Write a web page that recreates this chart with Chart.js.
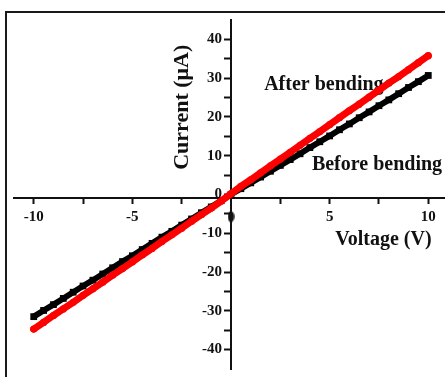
<!DOCTYPE html>
<html lang="en">
<head>
<meta charset="UTF-8">
<title>Current vs Voltage - before and after bending</title>
<script src="https://cdn.jsdelivr.net/npm/chart.js"></script>
<style>
    html, body { margin: 0; padding: 0; background: #fff; overflow: hidden; }
    body { width: 445px; height: 377px; position: relative; }
    #frame {
        position: absolute; left: 5px; top: 11px;
        width: 480px; height: 420px;
        border: 2px solid #1a1a1a; box-sizing: border-box;
    }
    #ivChart { position: absolute; left: 0; top: 0; }
</style>
</head>
<body>
<div id="frame"></div>
<canvas id="ivChart" width="460" height="377"></canvas>
<script>
// Voltage sweep (V)
const voltage = [-10, -9.5, -9, -8.5, -8, -7.5, -7, -6.5, -6, -5.5, -5, -4.5, -4, -3.5, -3, -2.5, -2, -1.5, -1, -0.5,
    0, 0.5, 1, 1.5, 2, 2.5, 3, 3.5, 4, 4.5, 5, 5.5, 6, 6.5, 7, 7.5, 8, 8.5, 9, 9.5, 10];

// Current (uA) before bending - black squares
const currentBefore = [-31.5, -29.9, -28.4, -26.8, -25.2, -23.6, -22.1, -20.5, -18.9, -17.3, -15.8, -14.2, -12.6, -11.0, -9.5, -7.9, -6.3, -4.7, -3.2, -1.6,
    0, 1.5, 3.0, 4.5, 6.0, 7.5, 9.0, 10.5, 12.1, 13.6, 15.1, 16.7, 18.2, 19.8, 21.3, 22.9, 24.4, 26.0, 27.6, 29.1, 30.7];

// Current (uA) after bending - red circles
const currentAfter = [-34.7, -33.0, -31.2, -29.5, -27.8, -26.0, -24.3, -22.6, -20.8, -19.1, -17.4, -15.6, -13.9, -12.1, -10.4, -8.7, -6.9, -5.2, -3.5, -1.7,
    0.2, 2.1, 3.8, 5.6, 7.4, 9.1, 10.9, 12.7, 14.5, 16.2, 18.0, 19.8, 21.6, 23.3, 25.1, 26.9, 28.7, 30.4, 32.2, 34.0, 35.8];

const seriesNames = ['Before bending', 'After bending'];

// blob sitting where the x "0" label would be
const zeroMarkV = [0];
const zeroMarkI = [-5.7];

const xTickValues = [-10, -7.5, -5, -2.5, 2.5, 5, 7.5, 10];
const xTickLabels = [-10, -5, 5, 10];
const yTickValues = [-40, -35, -30, -25, -20, -15, -10, -5, 0, 5, 10, 15, 20, 25, 30, 35, 40];
const yTickLabels = [-40, -30, -20, -10, 0, 10, 20, 30, 40];

const xTitle = 'Voltage (V)';
const yTitle = 'Current (\u03bcA)';

const serif = '"Liberation Serif", "Times New Roman", serif';
const ink = '#111';

function toPoints(xs, ys) {
    return xs.map((v, i) => ({ x: v, y: ys[i] }));
}

// small upright ellipse used as a point style
const blob = document.createElement('canvas');
blob.width = 7; blob.height = 12;
(function () {
    const b = blob.getContext('2d');
    b.fillStyle = ink;
    b.beginPath();
    b.ellipse(3.5, 6, 3.2, 5.6, 0, 0, Math.PI * 2);
    b.fill();
})();

// annotation texts + y tick labels (value-positioned y axis puts them on the line)
const textPlugin = {
    id: 'ivTexts',
    beforeDatasetsDraw(chart) {
        const ctx = chart.ctx;
        const xs = chart.scales.x;
        const ys = chart.scales.y;
        ctx.save();
        ctx.fillStyle = ink;
        ctx.textBaseline = 'middle';

        ctx.textAlign = 'right';
        ctx.font = 'bold 15px ' + serif;
        const axisX = xs.getPixelForValue(0);
        yTickLabels.forEach(v => {
            ctx.fillText(String(v), axisX - 9, ys.getPixelForValue(v));
        });

        ctx.textAlign = 'left';
        ctx.font = 'bold 20px ' + serif;
        ctx.fillText(seriesNames[1], xs.getPixelForValue(1.68), ys.getPixelForValue(28.4));
        ctx.fillText(seriesNames[0], xs.getPixelForValue(4.1), ys.getPixelForValue(7.6));
        ctx.fillText(xTitle, xs.getPixelForValue(5.28), ys.getPixelForValue(-11.6));

        ctx.translate(xs.getPixelForValue(-2.45), ys.getPixelForValue(22.5));
        ctx.rotate(-Math.PI / 2);
        ctx.textAlign = 'center';
        ctx.font = 'bold 22px ' + serif;
        ctx.fillText(yTitle, 0, 0);
        ctx.restore();
    }
};

const tickFont = { family: serif, size: 15, weight: 'bold' };

new Chart(document.getElementById('ivChart'), {
    type: 'scatter',
    data: {
        datasets: [
            {
                label: seriesNames[1],
                data: toPoints(voltage, currentAfter),
                showLine: true,
                borderColor: '#ff0000',
                backgroundColor: '#ff0000',
                borderWidth: 7,
                borderCapStyle: 'round',
                pointStyle: 'circle',
                pointRadius: 3.6,
                pointBorderWidth: 0,
                order: 0
            },
            {
                label: seriesNames[0],
                data: toPoints(voltage, currentBefore),
                showLine: true,
                borderColor: '#000',
                backgroundColor: '#000',
                borderWidth: 6,
                pointStyle: 'rect',
                pointRadius: 4.8,
                pointBorderWidth: 0,
                order: 1
            },
            {
                label: 'zero',
                data: toPoints(zeroMarkV, zeroMarkI),
                pointStyle: blob,
                pointRadius: 6,
                order: 2
            }
        ]
    },
    options: {
        responsive: false,
        animation: false,
        layout: { padding: { left: 14, right: 12, top: 20, bottom: 8 } },
        plugins: {
            legend: { display: false },
            tooltip: { enabled: false }
        },
        scales: {
            x: {
                type: 'linear',
                min: -11,
                max: 11,
                position: { y: -1 },
                afterBuildTicks: (s) => { s.ticks = xTickValues.map(v => ({ value: v })); },
                afterFit: (s) => { s.height = 0; s.paddingLeft = 0; s.paddingRight = 0; },
                grid: { drawOnChartArea: false, drawTicks: true, tickLength: 5, tickWidth: 2, tickColor: ink },
                border: { display: true, color: ink, width: 2 },
                ticks: {
                    autoSkip: false,
                    maxRotation: 0,
                    padding: 5,
                    color: ink,
                    font: tickFont,
                    callback: (v) => xTickLabels.includes(v) ? String(v) : ''
                }
            },
            y: {
                type: 'linear',
                min: -45,
                max: 45,
                position: { x: 0 },
                afterBuildTicks: (s) => { s.ticks = yTickValues.map(v => ({ value: v })); },
                afterFit: (s) => { s.width = 0; s.paddingTop = 0; s.paddingBottom = 0; },
                grid: { drawOnChartArea: false, drawTicks: true, tickLength: 6, tickWidth: 2, tickColor: ink },
                border: { display: true, color: ink, width: 2 },
                ticks: {
                    autoSkip: false,
                    color: ink,
                    font: tickFont,
                    callback: () => ''
                }
            }
        }
    },
    plugins: [textPlugin]
});
</script>
</body>
</html>
